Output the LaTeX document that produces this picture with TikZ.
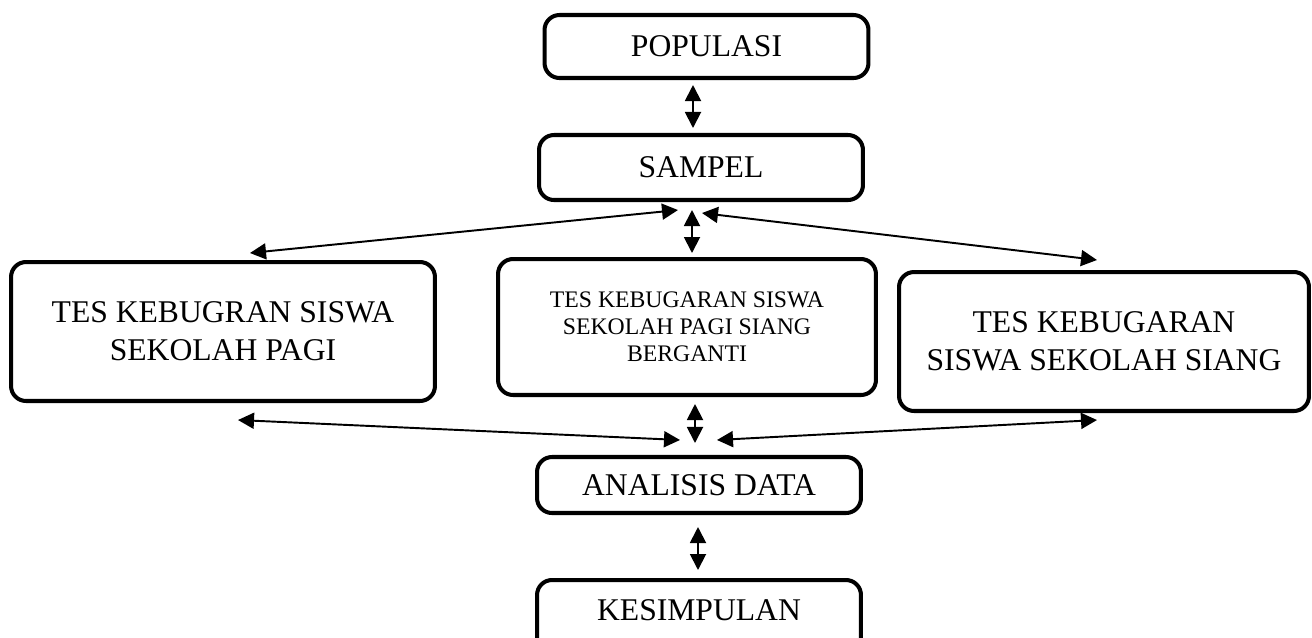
\documentclass[tikz,border=0pt]{standalone}
\usepackage{fontspec}
\setmainfont{Liberation Serif}
\usetikzlibrary{arrows.meta, calc}
\tikzstyle{stage} = [
    rectangle,
    rounded corners=0.3cm,
    minimum width=6.48cm,
    minimum height=1.26cm,
    line width=2.3pt,
    draw=black,
    font=\fontsize{18}{21.6}\selectfont
]
\tikzstyle{testbox} = [
    rectangle,
    rounded corners=0.3cm,
    minimum height=2.78cm,
    line width=2.3pt,
    draw=black,
    align=center,
    font=\fontsize{18}{21.6}\selectfont
]
\tikzstyle{arrow} = [line width=1.1pt,<->,>={Triangle[length=0.32cm,width=0.32cm]}]
\begin{document}
\begin{tikzpicture}[x=0.02cm, y=-0.02cm]
\useasboundingbox (0,0) rectangle (1312,637);

\node (populasi) [stage] at (706.5,46.5) {POPULASI};

\node (sampel) [stage, minimum height=1.30cm] at (701,167.5) {SAMPEL};

\node (pagi) [testbox, minimum width=8.48cm] at (223,331.5)
{TES KEBUGRAN SISWA\\SEKOLAH PAGI};

\node (berganti) [testbox, minimum width=7.56cm, minimum height=2.72cm,
    font=\fontsize{13.5}{15.3}\selectfont] at (687,327)
{TES KEBUGARAN SISWA\\SEKOLAH PAGI SIANG\\BERGANTI};

\node (siang) [testbox, minimum width=8.2cm] at (1104,341.5)
{TES KEBUGARAN\\SISWA SEKOLAH SIANG};

\node (analisis) [stage, minimum height=1.12cm] at (699,485) {ANALISIS DATA};

\node (kesimpulan) [stage, minimum height=1.5cm, text depth=0.3cm] at (699,617.5) {KESIMPULAN};

\draw [arrow] ($(populasi.south)+(-13.5,5)$) -- ($(sampel.north)+(-8,-5)$);
\draw [arrow] ($(sampel.south)+(-9,8)$) -- ($(berganti.north)+(5,-4)$);
\draw [arrow] ($(sampel.south)+(-23,8)$) -- ($(pagi.north)+(27,-7)$);
\draw [arrow] ($(sampel.south)+(1,11)$) -- ($(siang.north)+(-7,-10)$);
\draw [arrow] ($(berganti.south)+(8,7)$) -- ($(analisis.north)+(-4,-12)$);
\draw [arrow] ($(pagi.south)+(15,17)$) -- ($(analisis.north)+(-19,-15)$);
\draw [arrow] ($(siang.south)+(-7,7)$) -- ($(analisis.north)+(18,-15)$);
\draw [arrow] ($(analisis.south)+(-1,12)$) -- ($(kesimpulan.north)+(-1,-8)$);

\end{tikzpicture}
\end{document}
